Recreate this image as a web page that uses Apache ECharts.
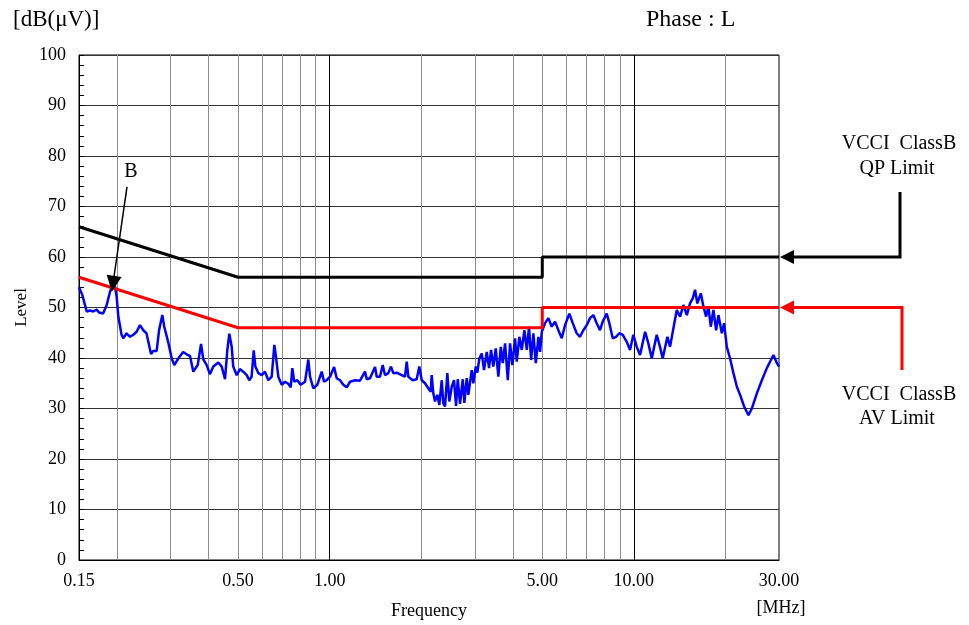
<!DOCTYPE html>
<html><head><meta charset="utf-8">
<script src="https://cdn.jsdelivr.net/npm/echarts@6/dist/echarts.min.js"></script>
<style>html,body{margin:0;padding:0;background:#fff}#c{width:969px;height:625px}</style>
</head><body><div id="c"></div>
<script>
const FONT = "'Liberation Serif','Times New Roman',serif";

// Measured trace (Phase L): frequency [MHz] and level [dB(uV)]
const freqMHz = [
0.150,0.1538,0.159,0.163,0.167,0.1715,0.1745,0.180,0.185,0.190,0.1936,0.197,0.1995,0.202,0.207,0.2097,0.215,0.2207,0.2263,0.232,
0.238,0.244,0.250,0.2587,0.263,0.270,0.275,0.2818,0.286,0.295,0.3026,0.3086,0.318,0.330,0.3415,0.3476,0.3563,0.3684,0.3778,0.3844,
0.3944,0.404,0.4146,0.4306,0.4418,0.453,0.461,0.468,0.4766,0.482,0.495,0.507,0.520,0.534,0.544,0.554,0.563,0.570,0.583,0.598,
0.613,0.6285,0.645,0.658,0.666,0.678,0.696,0.713,0.731,0.745,0.754,0.765,0.783,0.803,0.830,0.851,0.862,0.884,0.911,0.942,
0.958,0.978,1.003,1.034,1.055,1.082,1.109,1.138,1.167,1.212,1.258,1.307,1.324,1.357,1.410,1.428,1.464,1.494,1.521,1.559,
1.591,1.619,1.662,1.725,1.769,1.792,1.814,1.875,1.933,1.971,2.008,2.058,2.110,2.149,2.165,2.192,2.220,2.259,2.294,2.336,
2.364,2.395,2.437,2.474,2.520,2.564,2.603,2.637,2.683,2.739,2.772,2.823,2.857,2.931,2.967,3.022,3.058,3.105,3.162,3.217,
3.284,3.342,3.393,3.452,3.516,3.586,3.652,3.707,3.773,3.851,3.918,3.987,4.070,4.122,4.204,4.281,4.367,4.446,4.524,4.594,
4.675,4.761,4.855,4.918,4.982,5.107,5.236,5.373,5.508,5.648,5.795,5.941,6.137,6.297,6.488,6.653,6.822,7.000,7.176,7.358,
7.549,7.740,7.900,8.143,8.306,8.523,8.737,8.959,9.193,9.475,9.715,9.962,10.22,10.48,10.89,11.16,11.45,11.89,12.19,12.44,
12.89,13.15,13.49,13.84,14.19,14.55,14.93,15.30,15.62,15.89,16.17,16.60,16.93,17.28,17.58,17.90,18.26,18.64,18.97,19.46,
19.80,20.21,20.72,21.25,21.81,22.35,23.04,23.81,24.43,25.37,26.35,27.36,28.06,28.77,29.36,30.00
];
const levelDb = [
54.0,52.5,49.2,49.4,49.2,49.6,49.0,48.8,50.5,53.3,54.0,54.1,52.1,48.2,44.6,43.9,44.9,44.2,44.6,45.2,
46.5,45.5,44.9,40.8,41.4,41.4,45.5,48.5,46.2,43.0,39.9,38.6,39.9,41.2,40.6,40.4,37.3,38.6,42.8,39.7,
38.6,36.8,38.3,39.1,38.3,35.8,41.6,44.8,42.2,38.3,36.6,37.8,37.3,36.6,35.6,36.3,41.5,38.3,37.0,36.6,
37.3,35.6,36.3,42.6,40.3,36.3,34.7,35.3,34.9,34.2,38.0,35.3,35.6,34.7,35.3,39.7,36.3,34.0,34.7,37.3,
35.3,35.6,36.3,38.2,36.0,35.6,34.7,34.2,35.3,35.6,35.5,37.3,35.8,36.0,38.2,36.3,36.3,38.6,36.6,37.0,
38.3,37.0,37.1,36.6,36.3,39.3,36.3,35.6,35.8,38.3,35.6,35.0,34.0,33.3,36.6,33.0,31.4,32.7,30.7,35.6,
31.0,30.4,37.0,31.4,34.3,35.6,30.5,35.8,30.9,35.8,31.1,36.0,32.7,37.6,35.0,38.3,37.1,39.9,40.9,37.6,
41.2,38.0,41.6,38.3,41.9,36.3,42.2,39.0,42.9,35.6,42.9,38.6,43.9,39.3,44.2,41.6,45.5,41.6,46.2,39.6,
44.9,39.0,44.2,41.2,45.2,46.9,47.9,46.2,47.2,45.5,43.9,46.5,48.8,46.9,44.9,44.2,45.5,46.5,47.9,48.5,
46.9,45.5,47.2,48.8,46.9,43.9,44.2,44.9,44.6,43.2,41.6,44.6,42.2,40.6,45.2,42.9,39.9,44.6,42.2,39.9,
44.2,42.2,45.9,49.5,48.2,50.5,48.5,50.8,51.8,53.5,50.8,52.8,50.2,48.2,50.2,46.2,49.5,45.5,48.5,44.9,
46.9,42.2,39.9,37.0,34.3,32.7,30.4,28.7,30.0,33.0,35.6,38.0,39.3,40.6,39.3,38.3
];

// VCCI Class B limits
const qpFreq = [0.15, 0.5, 5, 5, 30];
const qpLevel = [66, 56, 56, 60, 60];
const avFreq = [0.15, 0.5, 5, 5, 30];
const avLevel = [56, 46, 46, 50, 50];

// Axis ticks
const xTickLabels = [0.15, 0.5, 1, 5, 10, 30];
const xGridMinor = [0.2, 0.3, 0.4, 0.5, 0.6, 0.7, 0.8, 0.9, 2, 3, 4, 5, 6, 7, 8, 9, 20];
const xGridMajor = [1, 10];
const yMin = 0, yMax = 100, yStep = 10;

// Annotation "B" (peak marker)
const peakText = 'B';
const peakTextAt = [0.2224, 76.8];
const peakArrowFrom = [0.2157, 73.9];
const peakArrowTo = [0.194, 54.7];

const chart = echarts.init(document.getElementById('c'), null, {renderer: 'canvas'});

const gridLines = xGridMinor.map(v => ({xAxis: v, lineStyle: {color: '#8c8c8c', width: 1, type: 'solid'}}))
  .concat(xGridMajor.map(v => ({xAxis: v, lineStyle: {color: '#000', width: 1, type: 'solid'}})));

chart.setOption({
  animation: false,
  backgroundColor: '#fff',
  textStyle: {fontFamily: FONT},
  grid: {left: 79, right: 190, top: 55, bottom: 65, show: true, borderColor: '#000', borderWidth: 1, backgroundColor: 'transparent'},
  xAxis: {
    type: 'log', logBase: 10, min: 0.15, max: 30,
    axisLine: {show: true, lineStyle: {color: '#000', width: 1}},
    axisTick: {show: false}, axisLabel: {show: false},
    splitLine: {show: false}, minorSplitLine: {show: false}, minorTick: {show: false},
    name: 'Frequency', nameLocation: 'middle', nameGap: 42,
    nameTextStyle: {fontFamily: FONT, fontSize: 18, color: '#000'}
  },
  yAxis: {
    type: 'value', min: yMin, max: yMax, interval: yStep,
    axisLine: {show: true, lineStyle: {color: '#000', width: 1}},
    axisTick: {show: true, inside: true, length: 5, lineStyle: {color: '#000'}},
    minorTick: {show: true, splitNumber: 5, length: 5, lineStyle: {color: '#000'}},
    splitLine: {show: true, lineStyle: {color: '#333', width: 1}},
    axisLabel: {fontFamily: FONT, fontSize: 18, color: '#000', margin: 13},
    name: 'Level', nameLocation: 'middle', nameGap: 49, nameRotate: 90, nameMoveOverlap: false,
    nameTextStyle: {fontFamily: FONT, fontSize: 17, color: '#000'}
  },
  series: [
    {
      type: 'scatter', name: 'ticks', silent: true, z: 1,
      symbolSize: 0,
      itemStyle: {opacity: 1},
      data: xTickLabels.map(v => [v, 0]),
      label: {show: true, position: 'bottom', distance: 12, fontFamily: FONT, fontSize: 18, color: '#000',
        opacity: 1, formatter: p => p.value[0].toFixed(2)},
      markLine: {silent: true, symbol: ['none', 'none'], label: {show: false}, z: 1, data: gridLines, animation: false}
    },
    {
      type: 'line', name: 'Measured', z: 3,
      data: freqMHz.map((f, i) => [f, levelDb[i]]),
      showSymbol: false, symbol: 'none',
      lineStyle: {color: '#0000ff', width: 2.5},
      itemStyle: {color: '#0000ff'},
      markLine: {
        silent: true, symbol: ['none', 'triangle'], symbolSize: [15, 16],
        label: {show: false},
        lineStyle: {color: '#000', width: 1.5, type: 'solid'},
        itemStyle: {color: '#000'},
        data: [[{coord: peakArrowFrom}, {coord: peakArrowTo}]]
      },
      markPoint: {
        silent: true, symbol: 'circle', symbolSize: 1,
        itemStyle: {color: 'rgba(0,0,0,0)'},
        label: {show: true, position: 'inside', formatter: peakText, fontFamily: FONT, fontSize: 20, color: '#000'},
        data: [{coord: peakTextAt}]
      }
    },
    {
      type: 'line', name: 'QP Limit', z: 4,
      data: qpFreq.map((f, i) => [f, qpLevel[i]]),
      showSymbol: false, symbol: 'none',
      lineStyle: {color: '#000', width: 3}
    },
    {
      type: 'line', name: 'AV Limit', z: 4,
      data: avFreq.map((f, i) => [f, avLevel[i]]),
      showSymbol: false, symbol: 'none',
      lineStyle: {color: '#ff0000', width: 3}
    }
  ]
});

// Right-side limit annotations, anchored to the axis scale
const pQP = chart.convertToPixel({xAxisIndex: 0, yAxisIndex: 0}, [30, qpLevel[qpLevel.length - 1]]);
const pAV = chart.convertToPixel({xAxisIndex: 0, yAxisIndex: 0}, [30, avLevel[avLevel.length - 1]]);
const tipX = pQP[0] + 1;
function arrow(y, x2, yEnd, color) {
  return [
    {type: 'polyline', shape: {points: [[tipX + 12, y], [x2, y], [x2, yEnd]]}, style: {stroke: color, lineWidth: 3, fill: null}, z: 10},
    {type: 'polygon', shape: {points: [[tipX, y], [tipX + 14, y - 7], [tipX + 14, y + 7]]}, style: {fill: color}, z: 10}
  ];
}
const txt = (t, x, y, size, align) => ({type: 'text', x: x, y: y, z: 10,
  style: {text: t, fontFamily: FONT, fontSize: size, fill: '#000', align: align || 'center', verticalAlign: 'middle'}});

chart.setOption({
  graphic: [].concat(
    arrow(pQP[1], 900, 192, '#000'),
    arrow(pAV[1], 902, 370, '#ff0000'),
    [
      txt('[dB(μV)]', 13, 20, 23, 'left'),
      txt('Phase : L', 646, 20, 24, 'left'),
      txt('[MHz]', 781, 608, 18),
      txt('VCCI  ClassB', 899, 144, 20),
      txt('QP Limit', 897, 169, 20),
      txt('VCCI  ClassB', 899, 395, 20),
      txt('AV Limit', 897, 419, 20)
    ]
  )
});
</script>
</body></html>
